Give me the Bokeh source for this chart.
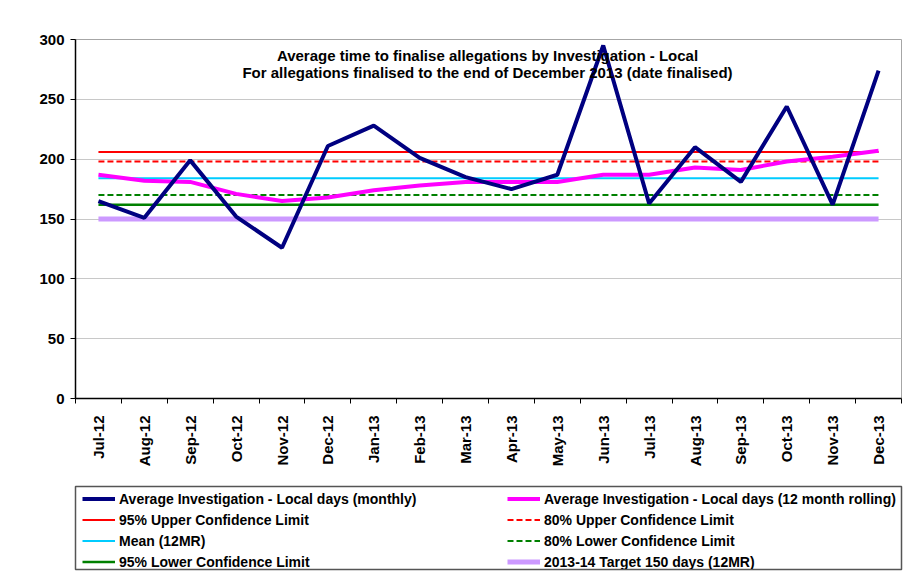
from bokeh.plotting import figure
from bokeh.layouts import column
from bokeh.models import Range1d, FixedTicker, Legend, LegendItem, Label
from bokeh.embed import file_html
from bokeh.resources import INLINE

# ---- data ----
months = ["Jul-12", "Aug-12", "Sep-12", "Oct-12", "Nov-12", "Dec-12", "Jan-13", "Feb-13",
          "Mar-13", "Apr-13", "May-13", "Jun-13", "Jul-13", "Aug-13", "Sep-13", "Oct-13",
          "Nov-13", "Dec-13"]
monthly = [165, 151, 199, 152, 126, 211, 228, 201, 185, 175, 187, 295, 163, 210, 181, 244, 162, 274]
rolling = [187, 182, 181, 171, 165, 168, 174, 178, 181, 181, 181, 187, 187, 193, 191, 198, 202, 207]
ucl95 = 206
ucl80 = 198
mean_12mr = 184
lcl80 = 170
lcl95 = 162
target = 150
y_ticks = [0, 50, 100, 150, 200, 250, 300]
title_lines = ["Average time to finalise allegations by Investigation - Local",
               "For allegations finalised to the end of December 2013 (date finalised)"]

n = len(months)
xc = [i + 0.5 for i in range(n)]
FONT = "Liberation Sans"

series = {
    "month": monthly,
    "roll": rolling,
    "ucl95": [ucl95] * n,
    "ucl80": [ucl80] * n,
    "mean": [mean_12mr] * n,
    "lcl80": [lcl80] * n,
    "lcl95": [lcl95] * n,
    "target": [target] * n,
}
styles = {
    "target": dict(line_color="#CC99FF", line_width=5),
    "ucl95": dict(line_color="#FF0000", line_width=1.8),
    "ucl80": dict(line_color="#FF0000", line_width=2, line_dash="6 3"),
    "mean": dict(line_color="#00CCFF", line_width=2),
    "lcl80": dict(line_color="#008000", line_width=2, line_dash="6 3"),
    "lcl95": dict(line_color="#008000", line_width=2.5),
    "roll": dict(line_color="#FF00FF", line_width=4),
    "month": dict(line_color="#000080", line_width=4),
}
draw_order = ["target", "ucl95", "ucl80", "mean", "lcl80", "lcl95", "roll", "month"]

p = figure(width=913, height=480, output_backend="svg", toolbar_location=None,
           x_range=Range1d(0, n), y_range=Range1d(0, 300),
           min_border_left=65, min_border_right=12, min_border_top=39, min_border_bottom=82)
p.background_fill_color = "white"
p.border_fill_color = "white"
p.outline_line_color = "#a6a6a6"
p.outline_line_width = 1

# axes
p.xaxis.ticker = FixedTicker(ticks=xc, minor_ticks=list(range(n + 1)))
p.xaxis.major_label_overrides = {x: m for x, m in zip(xc, months)}
p.xaxis.major_label_orientation = 1.5707963
p.xaxis.major_tick_out = 0
p.xaxis.major_tick_in = 0
p.xaxis.minor_tick_out = 5
p.xaxis.minor_tick_in = 0
p.xaxis.minor_tick_line_color = "black"
p.xaxis.major_label_standoff = 12
p.yaxis.ticker = FixedTicker(ticks=y_ticks)
p.yaxis.major_tick_out = 5
p.yaxis.major_tick_in = 0
p.yaxis.minor_tick_line_color = None
p.yaxis.major_label_standoff = 6
for ax in (p.xaxis, p.yaxis):
    ax.axis_line_color = "black"
    ax.axis_line_width = 1.5
    ax.major_tick_line_color = "black"
    ax.major_label_text_font = FONT
    ax.major_label_text_font_style = "bold"
    ax.major_label_text_font_size = "15px"
    ax.major_label_text_color = "black"

p.xgrid.grid_line_color = None
p.ygrid.ticker = FixedTicker(ticks=y_ticks)
p.ygrid.grid_line_color = "#c8c8c8"
p.ygrid.grid_line_width = 1

for key in draw_order:
    p.line(xc, series[key], **styles[key])

# title inside plot
for i, t in enumerate(title_lines):
    p.add_layout(Label(x=412, y=343 - 17 * i, x_units="screen", y_units="screen", text=t,
                       text_align="center", text_baseline="middle", text_font=FONT,
                       text_font_style="bold", text_font_size="15px", text_color="black"))

# ---- legend panel (separate figure whose frame is the legend box) ----
lp = figure(width=913, height=92, output_backend="svg", toolbar_location=None,
            x_range=Range1d(-10, -9), y_range=Range1d(-10, -9),
            min_border_left=75, min_border_right=2, min_border_top=6, min_border_bottom=3)
lp.axis.visible = False
lp.grid.visible = False
lp.outline_line_color = "#555555"
lp.outline_line_width = 1.5
lp.background_fill_color = "white"
lp.border_fill_color = "white"

# same series drawn outside the legend panel's visible range: only their legend samples show
leg_r = {key: lp.line(xc, series[key], **styles[key]) for key in draw_order}

def make_legend(items, loc):
    lg = Legend(items=items, location=loc, orientation="vertical",
                border_line_alpha=0, background_fill_alpha=0, padding=0, margin=0,
                spacing=0, glyph_width=33, glyph_height=21, label_height=21,
                label_standoff=4, label_text_font=FONT, label_text_font_style="bold",
                label_text_font_size="14px", label_text_color="black")
    lp.add_layout(lg)

make_legend([
    LegendItem(label="Average Investigation - Local days (monthly)", renderers=[leg_r["month"]]),
    LegendItem(label="95% Upper Confidence Limit", renderers=[leg_r["ucl95"]]),
    LegendItem(label="Mean (12MR)", renderers=[leg_r["mean"]]),
    LegendItem(label="95% Lower Confidence Limit", renderers=[leg_r["lcl95"]]),
], (7, -3))
make_legend([
    LegendItem(label="Average Investigation - Local days (12 month rolling)", renderers=[leg_r["roll"]]),
    LegendItem(label="80% Upper Confidence Limit", renderers=[leg_r["ucl80"]]),
    LegendItem(label="80% Lower Confidence Limit", renderers=[leg_r["lcl80"]]),
    LegendItem(label="2013-14 Target 150 days (12MR)", renderers=[leg_r["target"]]),
], (432, -3))

layout = column(p, lp, spacing=0)
open("out.html", "w").write(file_html(layout, INLINE))
